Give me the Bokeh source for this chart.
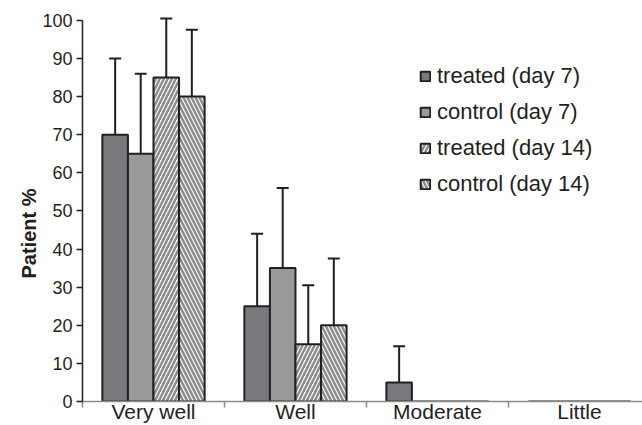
from bokeh.plotting import figure
from bokeh.models import (ColumnDataSource, Whisker, TeeHead, LinearAxis, FixedTicker,
                          Range1d, Legend, LegendItem, Title)
from bokeh.embed import file_html
from bokeh.resources import INLINE

categories = ["Very well", "Well", "Moderate", "Little"]
series = ["treated (day 7)", "control (day 7)", "treated (day 14)", "control (day 14)"]
treated_d7 = [70, 25, 5, 0]
control_d7 = [65, 35, 0, 0]
treated_d14 = [85, 15, 0, 0]
control_d14 = [80, 20, 0, 0]
treated_d7_err = [20, 19, 9.5, 0]
control_d7_err = [21, 21, 0, 0]
treated_d14_err = [15.5, 15.5, 0, 0]
control_d14_err = [17.5, 17.5, 0, 0]
y_ticks = list(range(0, 101, 10))

values = [treated_d7, control_d7, treated_d14, control_d14]
errors = [treated_d7_err, control_d7_err, treated_d14_err, control_d14_err]
fills = ["#78797c", "#98999b", "white", "white"]
hatches = [None, None, "/", "\\"]
offsets = [-0.27, -0.09, 0.09, 0.27]
bar_w = 0.18
FONT = "Liberation Sans"
INK = "#231f20"

p = figure(width=642, height=425, output_backend="svg", toolbar_location=None,
           x_range=Range1d(0, 3.944), y_range=Range1d(0, 101),
           min_border_left=82, min_border_right=0, min_border_top=16, min_border_bottom=24,
           x_axis_location=None, y_axis_location=None)
p.outline_line_color = None
p.grid.visible = False
p.background_fill_color = "white"

items = []
for k in range(4):
    xs = [i + 0.5 + offsets[k] for i in range(len(categories))]
    src = ColumnDataSource(dict(x=xs, top=values[k]))
    kw = dict(x="x", top="top", bottom=0, width=bar_w, source=src,
              fill_color=fills[k], line_color=INK, line_width=2)
    if hatches[k]:
        kw.update(hatch_pattern=hatches[k], hatch_color="#8c8c8c", hatch_scale=8, hatch_weight=2.5)
    r = p.vbar(**kw)
    items.append(LegendItem(label=series[k], renderers=[r]))
    ex = [x for x, e in zip(xs, errors[k]) if e > 0]
    lo = [v for v, e in zip(values[k], errors[k]) if e > 0]
    hi = [v + e for v, e in zip(values[k], errors[k]) if e > 0]
    esrc = ColumnDataSource(dict(base=ex, lower=lo, upper=hi))
    w = Whisker(base="base", lower="lower", upper="upper", source=esrc, dimension="height",
                line_color=INK, line_width=2,
                upper_head=TeeHead(size=12, line_color=INK, line_width=2), lower_head=None)
    p.add_layout(w)

xaxis = LinearAxis(ticker=FixedTicker(ticks=[0.5, 1.5, 2.5, 3.5], minor_ticks=[0, 1, 2, 3]),
                   major_label_overrides={0.5: categories[0], 1.5: categories[1],
                                          2.5: categories[2], 3.5: categories[3]},
                   major_tick_out=0, major_tick_in=0, minor_tick_out=6, minor_tick_in=0,
                   axis_line_color="#8a8a8a", axis_line_width=1.5,
                   minor_tick_line_color="#8a8a8a", minor_tick_line_width=1.5,
                   major_label_standoff=-8, major_label_text_font=FONT,
                   major_label_text_font_size="21px", major_label_text_color=INK,
                   axis_label_standoff=0, axis_label_text_font_size="0px")
p.add_layout(xaxis, "below")

yaxis = LinearAxis(ticker=FixedTicker(ticks=y_ticks), bounds=(0, 100),
                   major_tick_out=6, major_tick_in=0, minor_tick_out=0, minor_tick_in=0,
                   axis_line_color=INK, axis_line_width=1.5,
                   major_tick_line_color=INK, major_tick_line_width=1.5,
                   major_label_standoff=4, major_label_text_font=FONT,
                   major_label_text_font_size="18px", major_label_text_color=INK,
                   axis_label_standoff=0, axis_label_text_font_size="0px")
p.add_layout(yaxis, "left")

ylab = Title(text="Patient %", align="left", offset=123, standoff=0,
             text_font=FONT, text_font_size="20px", text_font_style="bold", text_color=INK)
p.add_layout(ylab, "left")

legend = Legend(items=items, location=(337, 204), orientation="vertical",
                glyph_width=12, glyph_height=12, label_standoff=6, spacing=10,
                padding=0, margin=0, border_line_alpha=0, background_fill_alpha=0,
                label_text_font=FONT, label_text_font_size="22px", label_text_color=INK,
                label_height=25)
p.add_layout(legend)

open("out.html", "w").write(file_html(p, INLINE))
